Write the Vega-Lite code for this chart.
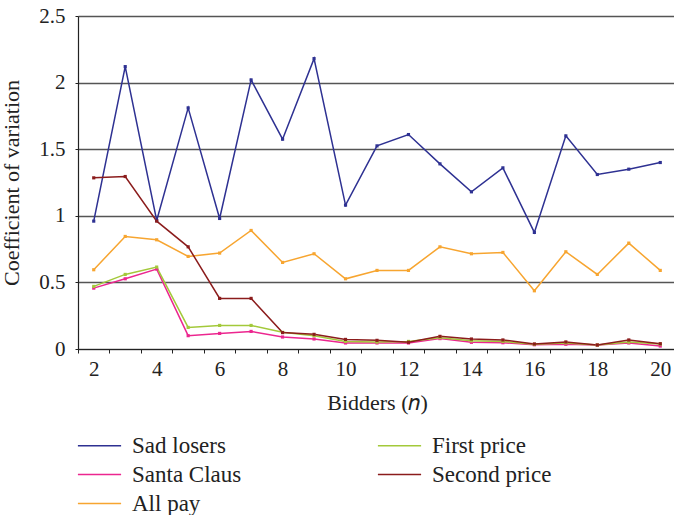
{
  "$schema": "https://vega.github.io/schema/vega-lite/v6.json",
  "width": 598,
  "height": 333,
  "autosize": {"type": "none"},
  "padding": {"left": 78, "top": 16, "right": 0, "bottom": 166},
  "background": "white",
  "config": {"font": "Liberation Serif", "view": {"stroke": null}},
  "data": {"values": [
    {"n": 2, "series": "Sad losers", "cv": 0.96},
    {"n": 3, "series": "Sad losers", "cv": 2.12},
    {"n": 4, "series": "Sad losers", "cv": 0.965},
    {"n": 5, "series": "Sad losers", "cv": 1.81},
    {"n": 6, "series": "Sad losers", "cv": 0.98},
    {"n": 7, "series": "Sad losers", "cv": 2.02},
    {"n": 8, "series": "Sad losers", "cv": 1.575},
    {"n": 9, "series": "Sad losers", "cv": 2.18},
    {"n": 10, "series": "Sad losers", "cv": 1.08},
    {"n": 11, "series": "Sad losers", "cv": 1.525},
    {"n": 12, "series": "Sad losers", "cv": 1.61},
    {"n": 13, "series": "Sad losers", "cv": 1.39},
    {"n": 14, "series": "Sad losers", "cv": 1.18},
    {"n": 15, "series": "Sad losers", "cv": 1.36},
    {"n": 16, "series": "Sad losers", "cv": 0.875},
    {"n": 17, "series": "Sad losers", "cv": 1.6},
    {"n": 18, "series": "Sad losers", "cv": 1.31},
    {"n": 19, "series": "Sad losers", "cv": 1.35},
    {"n": 20, "series": "Sad losers", "cv": 1.4},
    {"n": 2, "series": "All pay", "cv": 0.595},
    {"n": 3, "series": "All pay", "cv": 0.845},
    {"n": 4, "series": "All pay", "cv": 0.82},
    {"n": 5, "series": "All pay", "cv": 0.695},
    {"n": 6, "series": "All pay", "cv": 0.72},
    {"n": 7, "series": "All pay", "cv": 0.89},
    {"n": 8, "series": "All pay", "cv": 0.65},
    {"n": 9, "series": "All pay", "cv": 0.715},
    {"n": 10, "series": "All pay", "cv": 0.527},
    {"n": 11, "series": "All pay", "cv": 0.59},
    {"n": 12, "series": "All pay", "cv": 0.59},
    {"n": 13, "series": "All pay", "cv": 0.767},
    {"n": 14, "series": "All pay", "cv": 0.715},
    {"n": 15, "series": "All pay", "cv": 0.725},
    {"n": 16, "series": "All pay", "cv": 0.437},
    {"n": 17, "series": "All pay", "cv": 0.73},
    {"n": 18, "series": "All pay", "cv": 0.56},
    {"n": 19, "series": "All pay", "cv": 0.795},
    {"n": 20, "series": "All pay", "cv": 0.59},
    {"n": 2, "series": "Santa Claus", "cv": 0.457},
    {"n": 3, "series": "Santa Claus", "cv": 0.527},
    {"n": 4, "series": "Santa Claus", "cv": 0.6},
    {"n": 5, "series": "Santa Claus", "cv": 0.1},
    {"n": 6, "series": "Santa Claus", "cv": 0.117},
    {"n": 7, "series": "Santa Claus", "cv": 0.132},
    {"n": 8, "series": "Santa Claus", "cv": 0.09},
    {"n": 9, "series": "Santa Claus", "cv": 0.075},
    {"n": 10, "series": "Santa Claus", "cv": 0.045},
    {"n": 11, "series": "Santa Claus", "cv": 0.045},
    {"n": 12, "series": "Santa Claus", "cv": 0.045},
    {"n": 13, "series": "Santa Claus", "cv": 0.078},
    {"n": 14, "series": "Santa Claus", "cv": 0.05},
    {"n": 15, "series": "Santa Claus", "cv": 0.047},
    {"n": 16, "series": "Santa Claus", "cv": 0.032},
    {"n": 17, "series": "Santa Claus", "cv": 0.035},
    {"n": 18, "series": "Santa Claus", "cv": 0.03},
    {"n": 19, "series": "Santa Claus", "cv": 0.045},
    {"n": 20, "series": "Santa Claus", "cv": 0.022},
    {"n": 2, "series": "First price", "cv": 0.47},
    {"n": 3, "series": "First price", "cv": 0.56},
    {"n": 4, "series": "First price", "cv": 0.615},
    {"n": 5, "series": "First price", "cv": 0.162},
    {"n": 6, "series": "First price", "cv": 0.177},
    {"n": 7, "series": "First price", "cv": 0.177},
    {"n": 8, "series": "First price", "cv": 0.125},
    {"n": 9, "series": "First price", "cv": 0.1},
    {"n": 10, "series": "First price", "cv": 0.057},
    {"n": 11, "series": "First price", "cv": 0.052},
    {"n": 12, "series": "First price", "cv": 0.057},
    {"n": 13, "series": "First price", "cv": 0.085},
    {"n": 14, "series": "First price", "cv": 0.062},
    {"n": 15, "series": "First price", "cv": 0.057},
    {"n": 16, "series": "First price", "cv": 0.035},
    {"n": 17, "series": "First price", "cv": 0.045},
    {"n": 18, "series": "First price", "cv": 0.03},
    {"n": 19, "series": "First price", "cv": 0.052},
    {"n": 20, "series": "First price", "cv": 0.037},
    {"n": 2, "series": "Second price", "cv": 1.285},
    {"n": 3, "series": "Second price", "cv": 1.295},
    {"n": 4, "series": "Second price", "cv": 0.96},
    {"n": 5, "series": "Second price", "cv": 0.767},
    {"n": 6, "series": "Second price", "cv": 0.38},
    {"n": 7, "series": "Second price", "cv": 0.38},
    {"n": 8, "series": "Second price", "cv": 0.123},
    {"n": 9, "series": "Second price", "cv": 0.11},
    {"n": 10, "series": "Second price", "cv": 0.072},
    {"n": 11, "series": "Second price", "cv": 0.065},
    {"n": 12, "series": "Second price", "cv": 0.05},
    {"n": 13, "series": "Second price", "cv": 0.095},
    {"n": 14, "series": "Second price", "cv": 0.075},
    {"n": 15, "series": "Second price", "cv": 0.068},
    {"n": 16, "series": "Second price", "cv": 0.038},
    {"n": 17, "series": "Second price", "cv": 0.053},
    {"n": 18, "series": "Second price", "cv": 0.03},
    {"n": 19, "series": "Second price", "cv": 0.068},
    {"n": 20, "series": "Second price", "cv": 0.04}
  ]},
  "mark": {"type": "line", "strokeWidth": 1.5, "point": {"filled": true, "size": 10, "shape": "square"}},
  "encoding": {
    "x": {
      "field": "n", "type": "quantitative",
      "scale": {"domain": [1.5, 20.5], "nice": false, "zero": false},
      "axis": {
        "values": [1.5, 2.5, 3.5, 4.5, 5.5, 6.5, 7.5, 8.5, 9.5, 10.5, 11.5, 12.5, 13.5, 14.5, 15.5, 16.5, 17.5, 18.5, 19.5, 20.5],
        "labelExpr": "(datum.value + 0.5) % 2 == 0 ? format(datum.value + 0.5, 'd') : ''",
        "labelOffset": 15.7,
        "grid": false,
        "tickSize": 4,
        "tickColor": "#222",
        "domainColor": "#222",
        "domainWidth": 1.2,
        "labelFontSize": 21,
        "labelColor": "#222",
        "labelOverlap": false,
        "labelFlush": false,
        "labelBound": false,
        "labelPadding": 5,
        "title": "Bidders (𝑛)",
        "titleFontSize": 22,
        "titleFontWeight": "normal",
        "titleColor": "#222",
        "titlePadding": 13
      }
    },
    "y": {
      "field": "cv", "type": "quantitative",
      "scale": {"domain": [0, 2.5], "nice": false},
      "axis": {
        "values": [0, 0.5, 1, 1.5, 2, 2.5],
        "format": "~g",
        "grid": true,
        "gridColor": "#555",
        "gridWidth": 1.3,
        "tickSize": 3,
        "tickColor": "#222",
        "domainColor": "#222",
        "domainWidth": 1.2,
        "labelFontSize": 21,
        "labelColor": "#222",
        "labelPadding": 10,
        "labelOverlap": false,
        "title": "Coefficient of variation",
        "titleFontSize": 22,
        "titleFontWeight": "normal",
        "titleColor": "#222",
        "titlePadding": 15
      }
    },
    "color": {
      "field": "series", "type": "nominal",
      "scale": {
        "domain": ["Sad losers", "Santa Claus", "All pay", "First price", "Second price"],
        "range": ["#2e3192", "#ec268f", "#f7a530", "#a3c93a", "#8b1c1c"]
      },
      "legend": {
        "orient": "none",
        "legendX": 10,
        "legendY": 418,
        "columns": 2,
        "columnPadding": 132,
        "rowPadding": 5,
        "symbolType": "M-4.8,0H4.8",
        "symbolSize": 81,
        "symbolStrokeWidth": 1.5,
        "labelFontSize": 23,
        "labelOffset": 21,
        "labelColor": "#222",
        "title": null
      }
    }
  }
}
